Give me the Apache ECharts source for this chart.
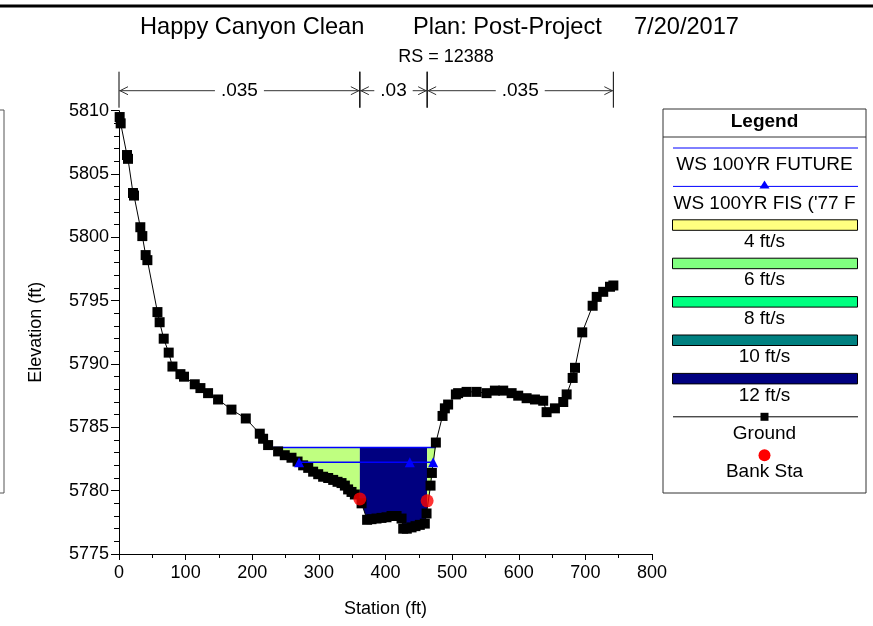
<!DOCTYPE html>
<html>
<head>
<meta charset="UTF-8">
<title>Happy Canyon Clean - RS 12388</title>
<script src="https://cdn.jsdelivr.net/npm/echarts@6/dist/echarts.min.js"></script>
<style>
body {
    margin: 0;
    padding: 0;
    background: #fff;
}
#main {
    width: 873px;
    height: 626px;
}
</style>
</head>
<body>
<div id="main"></div>
<script>
// ground profile, station (ft) / elevation (ft)
var groundSta = [1, 2.5, 12, 13.5, 21, 22.5, 32, 35, 40, 42.6, 57.7, 61, 67.1, 74.6, 80.2, 92.2, 97.6,
    113.7, 122.2, 133.7, 148.7, 168.8, 190.3, 211.3, 216.3, 223.8, 238.8, 248.8, 258.9, 268, 276.4,
    284, 291.4, 299, 306.4, 314, 321.5, 328, 334, 339, 343.9, 349, 354, 364.1, 372.4, 379, 386.5,
    394, 401.5, 409, 416.6, 424.1, 426.6, 432, 439.1, 445, 451.5, 459, 461.6, 467.6, 469.6, 475.6,
    485.6, 489.1, 494, 505.6, 509, 521.7, 536.7, 551.7, 564.2, 576.7, 589.3, 599.2, 611.8, 624.3,
    636.7, 641.8, 654.3, 666.8, 671.9, 680.9, 684.4, 695.3, 710.9, 717, 726.8, 737, 742];
var groundElev = [5809.5, 5809.0, 5806.5, 5806.2, 5803.5, 5803.3, 5800.8, 5800.1, 5798.6, 5798.2,
    5794.1, 5793.3, 5792.0, 5790.9, 5789.8, 5789.2, 5789.0, 5788.4, 5788.1, 5787.7, 5787.2, 5786.4,
    5785.7, 5784.5, 5784.1, 5783.6, 5783.1, 5782.8, 5782.6, 5782.3, 5782.0, 5781.8, 5781.5, 5781.3,
    5781.1, 5781.0, 5780.85, 5780.7, 5780.6, 5780.4, 5780.1, 5779.9, 5779.7, 5779.0, 5777.7, 5777.75,
    5777.8, 5777.85, 5777.9, 5778.0, 5778.0, 5777.8, 5777.0, 5777.0, 5777.1, 5777.2, 5777.3, 5777.4,
    5778.2, 5780.4, 5781.4, 5783.8, 5785.9, 5786.5, 5786.8, 5787.6, 5787.7, 5787.8, 5787.8, 5787.7,
    5787.9, 5787.9, 5787.7, 5787.5, 5787.3, 5787.2, 5787.1, 5786.2, 5786.5, 5787.0, 5787.6, 5788.9,
    5789.7, 5792.5, 5794.6, 5795.3, 5795.7, 5796.1, 5796.2];

var bankSta = [361.5, 462.5];
var bankElev = [5779.35, 5779.2];

// water surfaces
var wsFutureSta = [231, 475.6];
var wsFutureElev = 5783.4;
var wsFisSta = [270.3, 436.5, 471.5];
var wsFisElev = 5782.25;

// manning n values between the breaks
var nSta = [0, 361.5, 462.5, 742];
var nVal = ['.035', '.03', '.035'];

// velocity fill colours: left overbank, channel, right overbank
var fillColors = ['#BFFF80', '#000080', '#BFFF80'];

var legendNames = ['WS 100YR FUTURE', "WS 100YR FIS ('77 F", '4 ft/s', '6 ft/s', '8 ft/s', '10 ft/s', '12 ft/s', 'Ground', 'Bank Sta'];
var legendColors = ['#0000FF', '#0000FF', '#FFFF80', '#80FF80', '#00FF80', '#008080', '#000080', '#000000', '#FF0000'];

var yMin = 5775, yMax = 5810;
var FONT = '"Liberation Sans", Arial, sans-serif';

function groundAt(s) {
    for (var i = 1; i < groundSta.length; i++) {
        if (s <= groundSta[i]) {
            var t = (s - groundSta[i - 1]) / (groundSta[i] - groundSta[i - 1]);
            return groundElev[i - 1] + t * (groundElev[i] - groundElev[i - 1]);
        }
    }
    return groundElev[groundElev.length - 1];
}

// polygon between water surface and ground for one region
function fillPolygon(a, b, top) {
    var pts = [[a, top], [b, top], [b, Math.min(groundAt(b), top)]];
    for (var i = groundSta.length - 1; i >= 0; i--) {
        if (groundSta[i] > a && groundSta[i] < b) {
            pts.push([groundSta[i], Math.min(groundElev[i], top)]);
        }
    }
    pts.push([a, Math.min(groundAt(a), top)]);
    return pts;
}

var groundData = groundSta.map(function (s, i) { return [s, groundElev[i]]; });
var bankData = bankSta.map(function (s, i) { return [s, bankElev[i]]; });
var wsFutureData = wsFutureSta.map(function (s) { return [s, wsFutureElev]; });
var wsFisData = wsFisSta.map(function (s) { return [s, wsFisElev]; });
var fillRegions = [
    [wsFutureSta[0], bankSta[0], wsFutureElev],
    [bankSta[0], bankSta[1], wsFutureElev],
    [bankSta[1], wsFutureSta[1], wsFutureElev]
];
var nData = nVal.map(function (v, i) { return [nSta[i], nSta[i + 1], yMax]; });

// legend drawn as a boxed list, swatch above name
var legendGraphics = [
    { type: 'rect', shape: { x: 663, y: 109, width: 203, height: 384 }, style: { fill: '#fff', stroke: '#333', lineWidth: 1 } },
    { type: 'text', x: 764.5, y: 122, style: { text: 'Legend', font: 'bold 19px ' + FONT, fill: '#000', align: 'center', verticalAlign: 'middle' } },
    { type: 'line', shape: { x1: 663, y1: 137, x2: 866, y2: 137 }, style: { stroke: '#333', lineWidth: 1 } }
];
legendNames.forEach(function (name, i) {
    var y = 148 + i * 38.4;
    var c = legendColors[i];
    if (i < 2 || i === 7) {
        legendGraphics.push({ type: 'line', shape: { x1: 673, y1: y, x2: 858, y2: y }, style: { stroke: c, lineWidth: 1 } });
        if (i === 1) {
            legendGraphics.push({ type: 'polygon', shape: { points: [[764.5, y - 6], [769.5, y + 2], [759.5, y + 2]] }, style: { fill: c } });
        }
        if (i === 7) {
            legendGraphics.push({ type: 'rect', shape: { x: 760.5, y: y - 4, width: 8, height: 8 }, style: { fill: c } });
        }
    } else if (i === 8) {
        legendGraphics.push({ type: 'circle', shape: { cx: 764.5, cy: y, r: 6 }, style: { fill: c } });
    } else {
        legendGraphics.push({ type: 'rect', shape: { x: 672.5, y: y - 5, width: 185, height: 10.5 }, style: { fill: c, stroke: '#000', lineWidth: 1 } });
    }
    legendGraphics.push({ type: 'text', x: 764.5, y: y + 17, style: { text: name, font: '19px ' + FONT, fill: '#000', align: 'center', verticalAlign: 'middle' } });
});

var chart = echarts.init(document.getElementById('main'));

var option = {
    animation: false,
    backgroundColor: '#fff',
    grid: {
        left: 119,
        right: 221,
        top: 110.7,
        bottom: 72,
        outerBoundsMode: 'none'
    },
    xAxis: {
        type: 'value',
        min: 0,
        max: 800,
        interval: 100,
        name: 'Station (ft)',
        nameLocation: 'middle',
        nameGap: 46,
        nameTextStyle: { fontSize: 18, fontFamily: FONT, color: '#000' },
        axisLine: { show: true, lineStyle: { color: '#000', width: 1 } },
        axisTick: { show: true, length: 6, lineStyle: { color: '#000' } },
        minorTick: { show: true, splitNumber: 2, length: 4, lineStyle: { color: '#000' } },
        splitLine: { show: false },
        axisLabel: { fontSize: 18, fontFamily: FONT, color: '#000', margin: 10 }
    },
    yAxis: {
        type: 'value',
        min: yMin,
        max: yMax,
        interval: 5,
        name: 'Elevation (ft)',
        nameLocation: 'middle',
        nameGap: 74,
        nameTextStyle: { fontSize: 18, fontFamily: FONT, color: '#000' },
        axisLine: { show: true, lineStyle: { color: '#000', width: 1 } },
        axisTick: { show: true, length: 8, lineStyle: { color: '#000' } },
        minorTick: { show: true, splitNumber: 5, length: 5, lineStyle: { color: '#000' } },
        splitLine: { show: false },
        axisLabel: {
            fontSize: 18, fontFamily: FONT, color: '#000', margin: 10,
            formatter: function (v) { return String(v); }
        }
    },
    graphic: [
        { type: 'line', shape: { x1: 0, y1: 6, x2: 873, y2: 6 }, style: { stroke: '#000', lineWidth: 3 } },
        { type: 'rect', shape: { x: -6, y: 110, width: 10, height: 383 }, style: { fill: 'none', stroke: '#555', lineWidth: 1 } },
        { type: 'text', x: 140, y: 27, style: { text: 'Happy Canyon Clean', font: '23.6px ' + FONT, fill: '#000', verticalAlign: 'middle' } },
        { type: 'text', x: 413, y: 27, style: { text: 'Plan: Post-Project', font: '23.6px ' + FONT, fill: '#000', verticalAlign: 'middle' } },
        { type: 'text', x: 634, y: 27, style: { text: '7/20/2017', font: '23.6px ' + FONT, fill: '#000', verticalAlign: 'middle' } },
        { type: 'text', x: 446, y: 57, style: { text: 'RS = 12388', font: '18px ' + FONT, fill: '#000', align: 'center', verticalAlign: 'middle' } }
    ].concat(legendGraphics),
    series: [
        {
            // velocity distribution fill
            type: 'custom',
            name: 'velocity',
            z: 1,
            encode: { x: [0, 1], y: 2 },
            data: fillRegions,
            renderItem: function (params, api) {
                var pts = fillPolygon(api.value(0), api.value(1), api.value(2)).map(function (p) {
                    return api.coord(p);
                });
                return { type: 'polygon', shape: { points: pts }, style: { fill: fillColors[params.dataIndex] } };
            }
        },
        {
            type: 'line',
            name: 'WS 100YR FUTURE',
            z: 2,
            data: wsFutureData,
            symbol: 'none',
            lineStyle: { color: '#0000FF', width: 1.5 }
        },
        {
            type: 'line',
            name: 'Ground',
            z: 3,
            data: groundData,
            symbol: 'rect',
            symbolSize: 10,
            itemStyle: { color: '#000' },
            lineStyle: { color: '#000', width: 1 }
        },
        {
            type: 'line',
            name: "WS 100YR FIS ('77 FIS)",
            z: 4,
            data: wsFisData,
            symbol: 'triangle',
            symbolSize: 10,
            itemStyle: { color: '#0000FF' },
            lineStyle: { color: '#0000FF', width: 1.5 }
        },
        {
            type: 'scatter',
            name: 'Bank Sta',
            z: 5,
            data: bankData,
            symbol: 'circle',
            symbolSize: 13,
            itemStyle: { color: '#FF0000' }
        },
        {
            // n value breaks drawn above the plot
            type: 'custom',
            name: 'n values',
            z: 6,
            clip: false,
            encode: { x: [0, 1], y: 2 },
            data: nData,
            renderItem: function (params, api) {
                var p0 = api.coord([api.value(0), api.value(2)]);
                var p1 = api.coord([api.value(1), api.value(2)]);
                var y = p0[1] - 20;
                var x0 = p0[0], x1 = p1[0];
                var st = { stroke: '#333', lineWidth: 1, fill: 'none' };
                return {
                    type: 'group',
                    children: [
                        { type: 'line', shape: { x1: x0, y1: y - 19, x2: x0, y2: y + 17 }, style: { stroke: '#000', lineWidth: 1 } },
                        { type: 'line', shape: { x1: x1, y1: y - 19, x2: x1, y2: y + 17 }, style: { stroke: '#000', lineWidth: 1 } },
                        { type: 'line', shape: { x1: x0, y1: y, x2: x1, y2: y }, style: st },
                        { type: 'polyline', shape: { points: [[x0 + 9, y - 4], [x0 + 1, y], [x0 + 9, y + 4]] }, style: st },
                        { type: 'polyline', shape: { points: [[x1 - 9, y - 4], [x1 - 1, y], [x1 - 9, y + 4]] }, style: st },
                        {
                            type: 'text',
                            style: {
                                text: nVal[params.dataIndex], x: (x0 + x1) / 2, y: y,
                                align: 'center', verticalAlign: 'middle',
                                font: '19px ' + FONT, fill: '#000',
                                backgroundColor: '#fff', padding: [0, 6]
                            }
                        }
                    ]
                };
            }
        }
    ]
};
chart.setOption(option);
</script>
</body>
</html>
